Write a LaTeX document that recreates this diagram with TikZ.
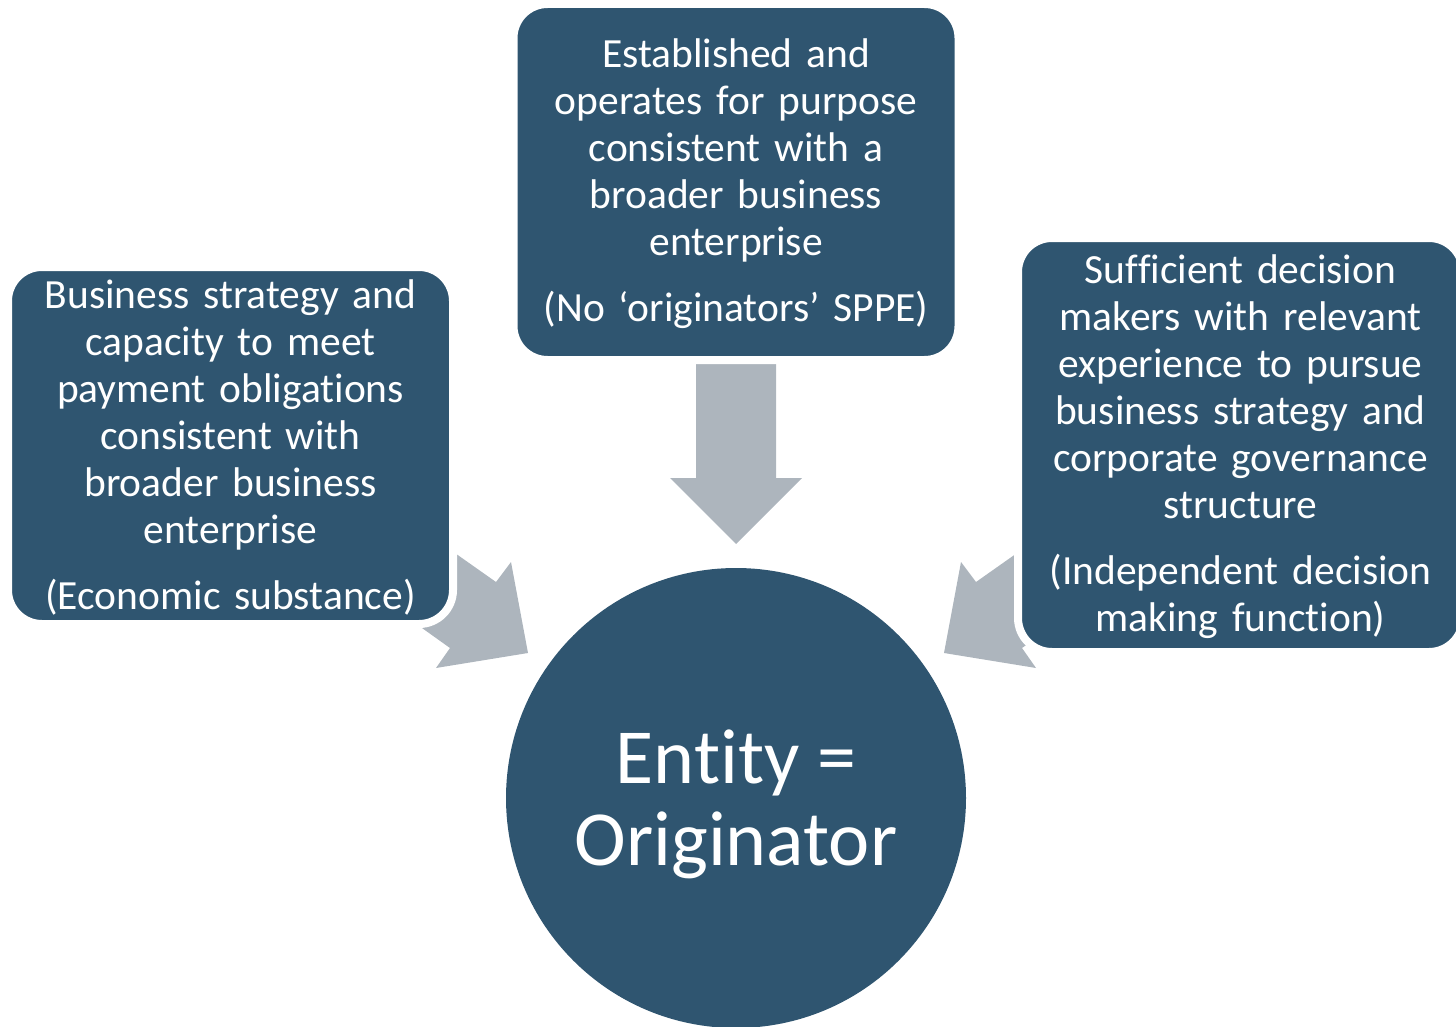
\documentclass[tikz,border=0pt]{standalone}
\usepackage{fontspec}
\setmainfont{Carlito}[Ligatures=NoCommon]
\definecolor{boxblue}{RGB}{47,85,112}
\definecolor{arrowgrey}{RGB}{173,181,189}
\begin{document}
\begin{tikzpicture}[x=1pt,y=-1pt,
  infobox/.style={fill=boxblue, draw=white, line width=8pt, rounded corners=34pt,
    inner sep=0pt, minimum width=445pt},
  boxtext/.style={text=white, align=center, inner sep=0pt, text width=445pt,
    font=\fontsize{41.5}{47}\selectfont},
  arrowfill/.style={fill=arrowgrey, draw=none},
  bigcircle/.style={circle, fill=boxblue, draw=none, minimum size=460pt, inner sep=0pt},
  bigtext/.style={text=white, align=center, inner sep=0pt, font=\fontsize{78}{82}\selectfont}]
\useasboundingbox (0,0) rectangle (1456,1027);
% arrow coordinates
\coordinate (lt) at (528,653);
\coordinate (rt) at (944,653);
\coordinate (tt) at (736,544);
% block arrows (behind boxes)
\path[arrowfill] (lt) -- (511,562) -- (496,582) -- (374,496) -- (328,561) -- (450,648) -- (436,668) -- cycle;
\path[arrowfill] (rt) -- (961,562) -- (976,582) -- (1098,496) -- (1144,561) -- (1022,648) -- (1036,668) -- cycle;
\path[arrowfill] (tt) -- (802,478) -- (776,478) -- (776,340) -- (696,340) -- (696,478) -- (670,478) -- cycle;
% boxes
\node[infobox, minimum height=357pt] (left) at (230.5,445.5) {};
\node[boxtext] (lefttext) at (230.5,447)
  {Business strategy and\\ capacity to meet\\ payment obligations\\ consistent with\\ broader business\\ enterprise\\[19pt] (Economic substance)};
\node[infobox, minimum height=356pt] (top) at (736,182) {};
\node[boxtext] (toptext) at (736,183.5)
  {Established and\\ operates for purpose\\ consistent with a\\ broader business\\ enterprise\\[19pt] (No ‘originators’ SPPE)};
\node[infobox, minimum height=414pt] (right) at (1240.5,445) {};
\node[boxtext] (righttext) at (1240.5,446.5)
  {Sufficient decision\\ makers with relevant\\ experience to pursue\\ business strategy and\\ corporate governance\\ structure\\[19pt] (Independent decision\\ making function)};
% circle
\node[bigcircle] (entity) at (736,798) {};
\node[bigtext] (entitytext) at (736,804) {Entity =\\ Originator};
\end{tikzpicture}
\end{document}
